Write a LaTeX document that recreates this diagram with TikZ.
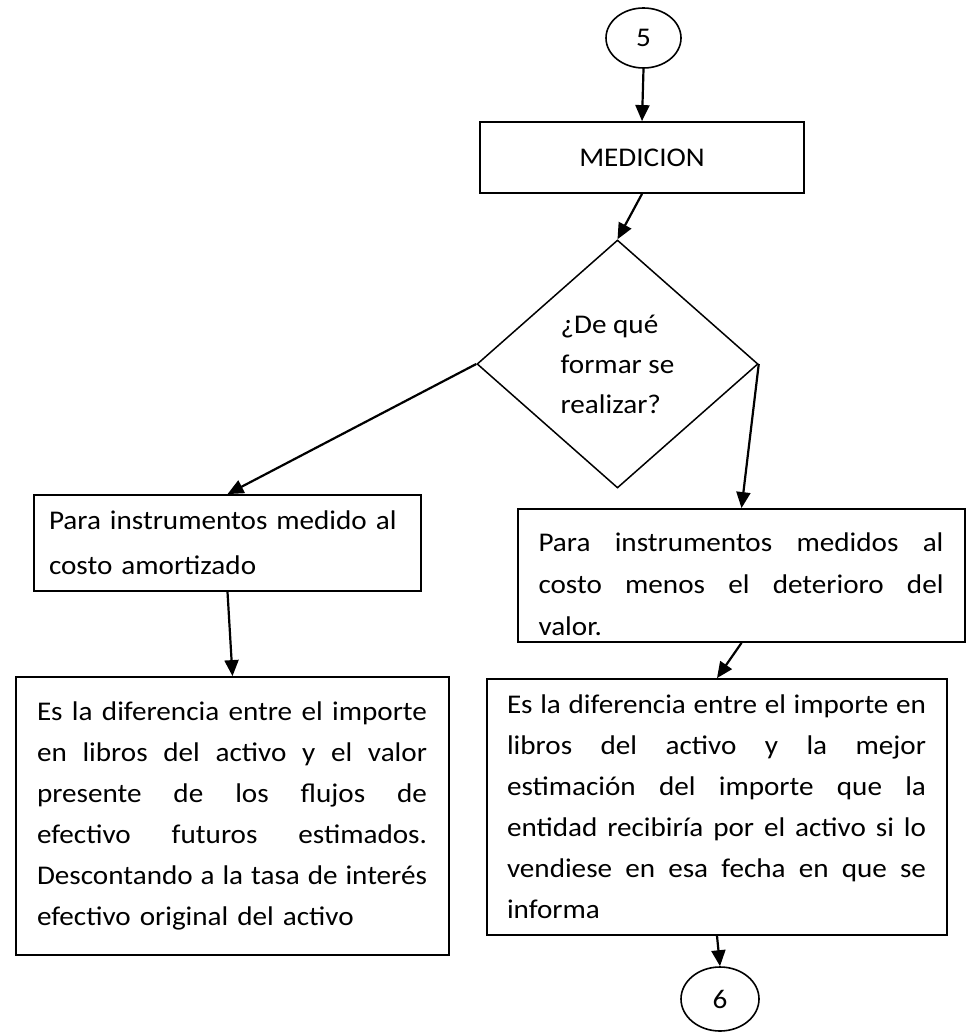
\documentclass[tikz,border=0pt]{standalone}
\usepackage{fontspec}
\setmainfont{Carlito}[FakeStretch=1.08]
\usetikzlibrary{shapes.geometric,arrows.meta}
\newcommand{\jl}[2]{\makebox[#1][s]{\spaceskip=0.23em plus 1fil\relax #2}}
\begin{document}
\begin{tikzpicture}[x=1pt,y=-1pt,
  txt/.style={font=\fontsize{27}{41}\selectfont},
  box/.style={draw, line width=1.8pt, rectangle, inner sep=0pt, txt},
  conn/.style={line width=2.2pt, -{Triangle[length=16pt,width=14pt]}},
  term/.style={draw, ellipse, line width=1.6pt, inner sep=0pt, txt}]
\useasboundingbox (0,0) rectangle (969,1032);
\node[term, minimum width=75pt, minimum height=60pt] (c5) at (643.5,38) {\raisebox{-4pt}{5}};
\node[box, minimum width=324pt, minimum height=71pt] (med) at (642,157.5) {MEDICION};
\node[diamond, draw, line width=1.5pt, minimum width=281pt, minimum height=248pt, inner sep=0pt,
      align=left, font=\fontsize{27}{40}\selectfont] (d) at (617.5,364) {¿De qué\\formar se\\realizar?};
\node[box, minimum width=387pt, minimum height=96pt, text width=357pt, align=left,
      font=\fontsize{27}{45}\selectfont] (b1) at (227.5,543) {Para instrumentos medido al\\costo amortizado};
\node[box, minimum width=447pt, minimum height=133pt, text width=406pt, align=left,
      font=\fontsize{27}{42}\selectfont] (b2) at (741.5,575.5)
  {\rule{0pt}{36pt}\jl{405pt}{Para instrumentos medidos al}\\\jl{405pt}{costo menos el deterioro del}\\valor.};
\node[box, minimum width=433pt, minimum height=278pt, text width=391pt, align=left] (b3) at (232.5,816)
  {\jl{390pt}{Es la diferencia entre el importe}\\
   \jl{390pt}{en libros del activo y el valor}\\
   \jl{390pt}{presente de los flujos de}\\
   \jl{390pt}{efectivo futuros estimados.}\\
   \jl{390pt}{Descontando a la tasa de interés}\\
   efectivo original del activo};
\node[box, minimum width=460pt, minimum height=256pt, text width=420pt, align=left] (b4) at (717,807)
  {\jl{419pt}{Es la diferencia entre el importe en}\\
   \jl{419pt}{libros del activo y la mejor}\\
   \jl{419pt}{estimación del importe que la}\\
   \jl{419pt}{entidad recibiría por el activo si lo}\\
   \jl{419pt}{vendiese en esa fecha en que se}\\
   informa};
\node[term, minimum width=78pt, minimum height=64pt] (c6) at (720,999) {6};
\draw[conn] (c5.south) -- (med.north);
\draw[conn] (med.south) -- (d.north);
\draw[conn] (d.west) -- (b1.north);
\draw[conn] (b1.south) -- (b3.north);
\draw[conn] (d.east) -- (b2.north);
\draw[conn] (b2.south) -- (b4.north);
\draw[conn] (b4.south) -- (c6.north);
\end{tikzpicture}
\end{document}
